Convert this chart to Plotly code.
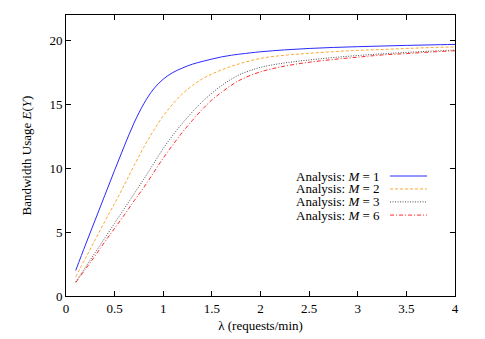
import plotly.graph_objects as go

lam = [0.1, 0.2, 0.3, 0.4, 0.5, 0.6, 0.7, 0.8, 0.9, 1.0, 1.1, 1.2, 1.3, 1.4, 1.5,
       1.6, 1.7, 1.8, 2.0, 2.25, 2.5, 2.75, 3.0, 3.25, 3.5, 3.75, 4.0]

m1 = [2.0, 4.0, 5.95, 7.9, 9.85, 11.75, 13.55, 15.05, 16.2, 16.98, 17.5, 17.86, 18.15, 18.36, 18.55,
      18.72, 18.85, 18.95, 19.12, 19.27, 19.38, 19.46, 19.52, 19.57, 19.62, 19.66, 19.7]
m2 = [1.5, 2.95, 4.4, 5.85, 7.25, 8.7, 10.2, 11.65, 12.95, 14.1, 15.05, 15.85, 16.48, 17.0, 17.38,
      17.7, 17.98, 18.22, 18.6, 18.85, 19.0, 19.13, 19.23, 19.3, 19.38, 19.45, 19.5]
m3 = [1.1, 2.25, 3.4, 4.55, 5.7, 6.85, 8.0, 9.15, 10.35, 11.55, 12.6, 13.55, 14.42, 15.2, 15.88,
      16.48, 16.98, 17.38, 17.9, 18.25, 18.48, 18.67, 18.83, 18.96, 19.07, 19.17, 19.25]
m6 = [1.05, 2.1, 3.15, 4.25, 5.3, 6.35, 7.45, 8.5, 9.65, 10.8, 11.85, 12.85, 13.75, 14.6, 15.35,
      15.95, 16.5, 16.95, 17.55, 18.0, 18.3, 18.52, 18.7, 18.87, 18.98, 19.1, 19.2]

labels = ["Analysis: <i>M</i> = 1", "Analysis: <i>M</i> = 2",
          "Analysis: <i>M</i> = 3", "Analysis: <i>M</i> = 6"]
series = [m1, m2, m3, m6]
colors = ["#2a2aff", "#ffa830", "#505050", "#ff2a2a"]
dashes = ["solid", "3px,2px", "1px,1.5px", "4px,2px,1px,2px"]

xticks = [0, 0.5, 1, 1.5, 2, 2.5, 3, 3.5, 4]
xticklabels = ["0", "0.5", "1", "1.5", "2", "2.5", "3", "3.5", "4"]
yticks = [0, 5, 10, 15, 20]

FONT = "Liberation Serif, Times New Roman, serif"

fig = go.Figure()
for ys, c, d, name in zip(series, colors, dashes, labels):
    fig.add_trace(go.Scatter(x=lam, y=ys, mode="lines", name=name,
                             line=dict(color=c, width=1, dash=d, shape="spline", smoothing=1.0),
                             showlegend=False))

# gnuplot-style legend (text left of sample line)
rows_y = [0.427, 0.381, 0.335, 0.288]
for name, c, d, yy in zip(labels, colors, dashes, rows_y):
    fig.add_annotation(xref="paper", yref="paper", x=0.812, y=yy, text=name,
                       showarrow=False, xanchor="right", yanchor="middle",
                       font=dict(family=FONT, size=13, color="black"))
    fig.add_shape(type="line", xref="paper", yref="paper", x0=0.833, x1=0.928,
                  y0=yy, y1=yy, line=dict(color=c, width=1, dash=d))

axis_common = dict(showline=True, linecolor="black", linewidth=1, mirror="allticks",
                   ticks="inside", ticklen=5, tickcolor="black", showgrid=False,
                   zeroline=False, automargin=False,
                   tickfont=dict(family=FONT, size=13, color="black"))

fig.update_xaxes(range=[0, 4], tickvals=xticks, ticktext=xticklabels,
                 title=dict(text="λ (requests/min)", font=dict(family=FONT, size=13, color="black"),
                            standoff=6),
                 **axis_common)
fig.update_yaxes(range=[0, 22], tickvals=yticks,
                 title=dict(text="Bandwidth Usage <i>E</i>(<i>Y</i>)",
                            font=dict(family=FONT, size=13, color="black"), standoff=14),
                 **axis_common)

# page body has an 8px margin, so the figure is shrunk and shifted accordingly
fig.update_layout(width=477, height=331, margin=dict(l=58, r=30, t=7, b=43),
                  plot_bgcolor="white", paper_bgcolor="white",
                  font=dict(family=FONT, size=13, color="black"))

fig.write_html("out.html")
